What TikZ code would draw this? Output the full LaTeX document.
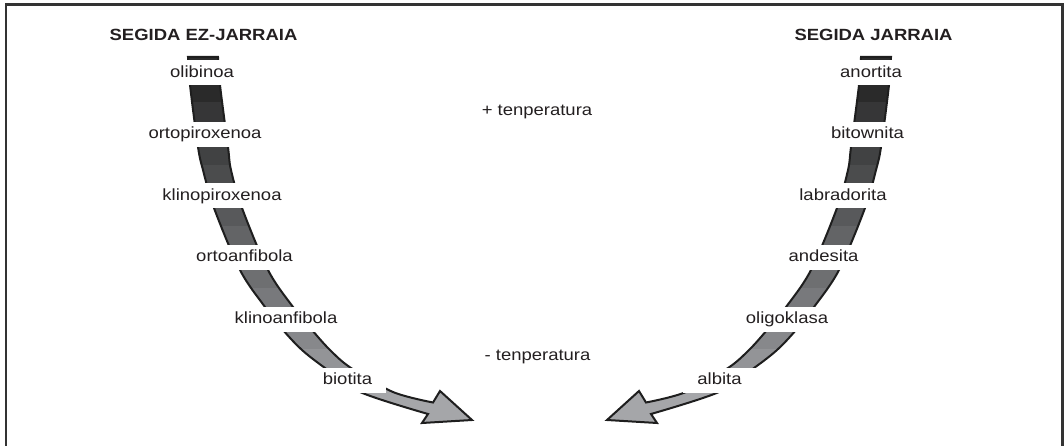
\documentclass[tikz,border=0pt]{standalone}
\usepackage{fontspec}
\setmainfont{Liberation Sans}[FakeStretch=1.14]
\definecolor{txt}{HTML}{231F20}
\definecolor{edge}{HTML}{1E1E1E}
\definecolor{frm}{HTML}{333333}
\definecolor{ca}{HTML}{2A2A2A}
\definecolor{cb}{HTML}{363637}
\definecolor{cc}{HTML}{414243}
\definecolor{cd}{HTML}{4B4C4D}
\definecolor{ce}{HTML}{58595B}
\definecolor{cf}{HTML}{636466}
\definecolor{cg}{HTML}{6E6F71}
\definecolor{ch}{HTML}{78797C}
\definecolor{ci}{HTML}{87888B}
\definecolor{cj}{HTML}{939497}
\definecolor{ck}{HTML}{A5A6A9}
\newcommand\bandshape{(188,57) -- plot[smooth,tension=0.55] coordinates {(188,57) (190,85) (198,147) (203,170) (214,208) (240,270) (265,307) (283,330) (302,350) (325,368) (360,392) (428,414)} -- (422,423) -- (472,420) -- (440,391) -- plot[smooth,tension=0.55] coordinates {(433,402.5) (393,392) (351,368) (330,350) (312,330) (293,307) (268,270) (242,208) (231,170) (228,147) (220,85) (218,57)} -- cycle}
\newcommand\bandtones{%
  \fill[ca] (0,40) rectangle (1064,102);
  \fill[cb] (0,102) rectangle (1064,134.5);
  \fill[cc] (0,134.5) rectangle (1064,165);
  \fill[cd] (0,165) rectangle (1064,196);
  \fill[ce] (0,196) rectangle (1064,226);
  \fill[cf] (0,226) rectangle (1064,257.5);
  \fill[cg] (0,257.5) rectangle (1064,288);
  \fill[ch] (0,288) rectangle (1064,319);
  \fill[ci] (0,319) rectangle (1064,349);
  \fill[cj] (0,349) rectangle (1064,380.5);
  \fill[ck] (0,380.5) rectangle (1064,440);}
\tikzset{
  lbl/.style={fill=white, inner xsep=14pt, inner ysep=0pt, minimum height=25pt,
    text height=11.6pt, text depth=3.4pt, text=txt,
    font=\fontsize{16.2}{19}\selectfont},
  plain/.style={inner sep=0pt, anchor=base, text=txt, font=\fontsize{16.2}{19}\selectfont},
  head/.style={inner sep=0pt, anchor=base, text=txt, font=\fontsize{16.2}{19}\selectfont\bfseries},
  bandline/.style={draw=edge, line width=2pt, line join=miter}
}
\begin{document}
\begin{tikzpicture}[x=1pt,y=-1pt]
\useasboundingbox (0,0) rectangle (1064,446);
\draw[frm, line width=2.3pt] (6.2,4.5) rectangle (1062.5,480);
% left band
\begin{scope}
  \clip \bandshape;
  \bandtones
\end{scope}
\draw[bandline] \bandshape;
% right band (mirror)
\begin{scope}[xshift=1079pt, xscale=-1]
  \begin{scope}
    \clip \bandshape;
    \bandtones
  \end{scope}
  \draw[bandline] \bandshape;
\end{scope}
% headers
\node[head] (hl) at (203.5,40.7) {SEGIDA EZ-JARRAIA};
\node[head] (hr) at (873.5,40.7) {SEGIDA JARRAIA};
% left labels
\node[lbl] (l1) at (202,73) {olibinoa};
\node[lbl] (l2) at (205,134.5) {ortopiroxenoa};
\node[lbl] (l3) at (222,196) {klinopiroxenoa};
\node[lbl] (l4) at (244.5,257.5) {ortoanfibola};
\node[lbl] (l5) at (286,319) {klinoanfibola};
\node[lbl] (l6) at (347.5,380.5) {biotita};
% right labels
\node[lbl] (r1) at (871,73) {anortita};
\node[lbl] (r2) at (867.5,134.5) {bitownita};
\node[lbl] (r3) at (843,196) {labradorita};
\node[lbl] (r4) at (823.5,257.5) {andesita};
\node[lbl] (r5) at (787,319) {oligoklasa};
\node[lbl] (r6) at (719.5,380.5) {albita};
% middle
\node[plain] (tp) at (537,116) {+ tenperatura};
\node[plain] (tm) at (537.5,360) {- tenperatura};
\end{tikzpicture}
\end{document}
